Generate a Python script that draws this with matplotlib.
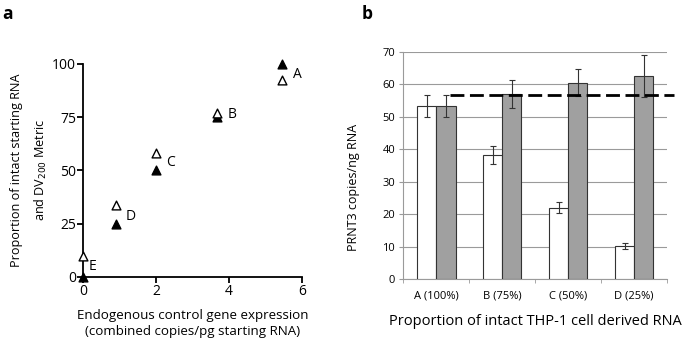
import matplotlib
matplotlib.use("Agg")
import matplotlib.pyplot as plt
import numpy as np

plt.rcParams['font.family'] = ['Open Sans', 'DejaVu Sans']

# Panel a data
labels_a = ["A", "B", "C", "D", "E"]
x_a = [5.45, 3.67, 2.0, 0.9, 0.0]
filled_a = [100, 75, 50, 25, 0]
open_a = [92.5, 77, 58, 34, 10]

# Panel b data
cats_b = ["A (100%)", "B (75%)", "C (50%)", "D (25%)"]
white_b = [53.3, 38.3, 22.0, 10.2]
white_err = [3.3, 2.8, 1.6, 1.0]
grey_b = [53.3, 57.0, 60.5, 62.7]
grey_err = [3.3, 4.2, 4.2, 6.5]
ref_line = 56.7

fig = plt.figure(figsize=(6.85, 3.44), dpi=100)

# ---- Panel a ----
axa = fig.add_axes([0.121, 0.195, 0.320, 0.619])
axa.scatter(x_a, filled_a, marker='^', s=40, color='black', zorder=3, clip_on=False)
axa.scatter(x_a, open_a, marker='^', s=40, facecolor='white', edgecolor='black',
            linewidth=1.0, zorder=3, clip_on=False)
label_pos = {"A": (0.30, 95), "B": (0.30, 76.5), "C": (0.27, 53.5), "D": (0.28, 28.6), "E": (0.16, 4.7)}
for lab, xv in zip(labels_a, x_a):
    dx, yy = label_pos[lab]
    axa.text(xv + dx, yy, lab, fontsize=10, va='center', ha='left')
axa.set_xlim(0, 6)
axa.set_ylim(0, 100)
axa.set_xticks([0, 2, 4, 6])
axa.set_yticks([0, 25, 50, 75, 100])
for s in ['top', 'right']:
    axa.spines[s].set_visible(False)
for s in ['left', 'bottom']:
    axa.spines[s].set_linewidth(1.3)
axa.tick_params(labelsize=10, width=1.3, length=4, pad=1)
axa.set_xlabel("Endogenous control gene expression\n(combined copies/pg starting RNA)",
               fontsize=9.6, labelpad=7, linespacing=1.3)
axa.set_ylabel("Proportion of intact starting RNA\nand DV$_{200}$ Metric", fontsize=9.1,
               labelpad=2, linespacing=1.85)
fig.text(0.004, 0.985, "a", fontsize=12.5, fontweight='bold', va='top')

# ---- Panel b ----
axb = fig.add_axes([0.589, 0.189, 0.385, 0.660])
xpos = np.arange(len(cats_b))
w = 0.29
axb.bar(xpos - w / 2, white_b, w, color='white', edgecolor='#333333', linewidth=0.8,
        yerr=white_err, error_kw=dict(ecolor='#333333', elinewidth=0.8, capsize=2.5, capthick=0.8),
        zorder=3)
axb.bar(xpos + w / 2, grey_b, w, color='#a0a0a0', edgecolor='#333333', linewidth=0.8,
        yerr=grey_err, error_kw=dict(ecolor='#333333', elinewidth=0.8, capsize=2.5, capthick=0.8),
        zorder=3)
axb.plot([0.2, 3.61], [ref_line, ref_line], ls=(0, (5, 2)), color='black', lw=2,
         zorder=4, clip_on=False)
axb.set_xlim(-0.5, 3.5)
axb.set_ylim(0, 70)
axb.set_yticks(range(0, 71, 10))
axb.yaxis.grid(True, color='#9a9a9a', linewidth=0.8)
axb.set_axisbelow(True)
axb.set_xticks(xpos)
axb.set_xticklabels(cats_b)
axb.set_xticks([-0.5, 0.5, 1.5, 2.5, 3.5], minor=True)
axb.tick_params(axis='x', which='major', length=0, labelsize=8, pad=8)
axb.tick_params(axis='x', which='minor', length=3, color='#9a9a9a')
axb.tick_params(axis='y', labelsize=8, length=3, color='#9a9a9a', pad=3)
for s in ['top', 'right']:
    axb.spines[s].set_visible(False)
for s in ['left', 'bottom']:
    axb.spines[s].set_color('#9a9a9a')
    axb.spines[s].set_linewidth(0.8)
axb.set_ylabel("PRNT3 copies/ng RNA", fontsize=9, labelpad=8)
axb.yaxis.set_label_coords(-0.165, 0.405)
axb.set_xlabel("Proportion of intact THP-1 cell derived RNA", fontsize=10.5, labelpad=9)
fig.text(0.528, 0.985, "b", fontsize=12.5, fontweight='bold', va='top')

fig.savefig("out.png", dpi=100)
